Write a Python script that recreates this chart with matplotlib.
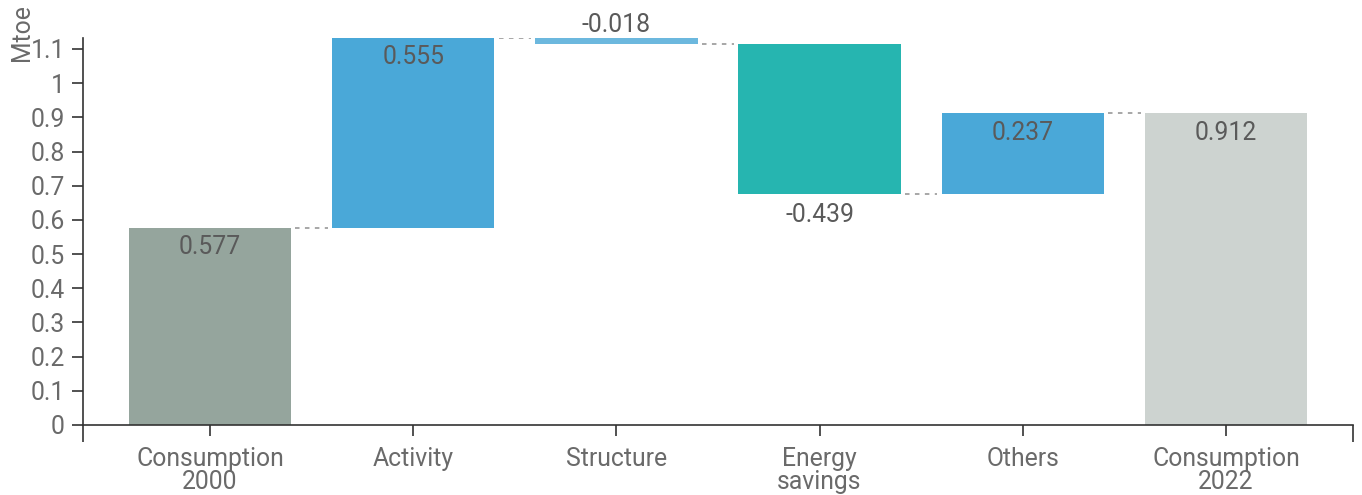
import matplotlib.pyplot as plt

categories = ['Consumption\n2000', 'Activity', 'Structure', 'Energy\nsavings', 'Others', 'Consumption\n2022']
values = [0.577, 0.555, -0.018, -0.439, 0.237, 0.912]
kinds = ['total', 'delta', 'delta', 'delta', 'delta', 'total']
colors = ['#95a59d', '#4aa8d8', '#6cb8de', '#26b5b0', '#4aa8d8', '#cdd3d0']
yticks = [0, 0.1, 0.2, 0.3, 0.4, 0.5, 0.6, 0.7, 0.8, 0.9, 1, 1.1]

plt.rcParams['font.family'] = ['Roboto', 'DejaVu Sans']
FS = 17.8

fig = plt.figure(figsize=(13.62, 4.95), dpi=100)
ax = fig.add_axes([83 / 1362, 70 / 495, 1270 / 1362, 387 / 495])

# running totals for the floating bars
bottoms, tops = [], []
level = 0
for v, k in zip(values, kinds):
    if k == 'total':
        b, t = 0, v
        level = v
    else:
        b, t = level, level + v
        level = t
    bottoms.append(min(b, t))
    tops.append(max(b, t))

x = range(len(categories))
heights = [t - b for b, t in zip(bottoms, tops)]
ax.bar(x, heights, bottom=bottoms, width=0.8, color=colors, zorder=2)

# connectors between bars
ends = []
level = 0
for v, k in zip(values, kinds):
    level = v if k == 'total' else level + v
    ends.append(level)
for i in range(len(values) - 1):
    ax.plot([i + 0.42, i + 0.58], [ends[i], ends[i]], color='#a0a0a0',
            lw=1.3, dashes=(2.5, 3), zorder=1)

# value labels
for i, v in enumerate(values):
    txt = f'{v:.3f}'
    if categories[i] == 'Structure':
        ax.annotate(txt, (i, tops[i]), xytext=(0, 9), textcoords='offset points',
                    ha='center', va='center', fontsize=FS, color='#5a5a5a')
    elif v < 0:
        ax.annotate(txt, (i, bottoms[i]), xytext=(0, -15), textcoords='offset points',
                    ha='center', va='center', fontsize=FS, color='#5a5a5a')
    else:
        ax.annotate(txt, (i, tops[i]), xytext=(0, -14), textcoords='offset points',
                    ha='center', va='center', fontsize=FS, color='#5a5a5a')

ax.set_xlim(-0.625, 5.625)
ax.set_ylim(0, 1.132)
ax.set_yticks(yticks)
ax.set_yticklabels([f'{t:g}' for t in yticks])
ax.set_xticks(list(x))
ax.set_xticklabels(categories, linespacing=0.95)
ax.set_xticks([-0.625, 5.625], minor=True)

for s in ['top', 'right']:
    ax.spines[s].set_visible(False)
for s in ['left', 'bottom']:
    ax.spines[s].set_color('#333333')
    ax.spines[s].set_linewidth(1.2)

ax.tick_params(axis='both', which='both', colors='#333333', labelcolor='#6a6a6a',
               labelsize=FS, width=1.2)
ax.tick_params(axis='y', length=8, pad=5)
ax.tick_params(axis='x', which='major', length=8, pad=8)
ax.tick_params(axis='x', which='minor', length=12)

fig.text(22 / 1362, 1 - 4 / 495, 'Mtoe', rotation=90, ha='center', va='top',
         fontsize=FS, color='#6a6a6a')

fig.savefig('out.png', dpi=100)
